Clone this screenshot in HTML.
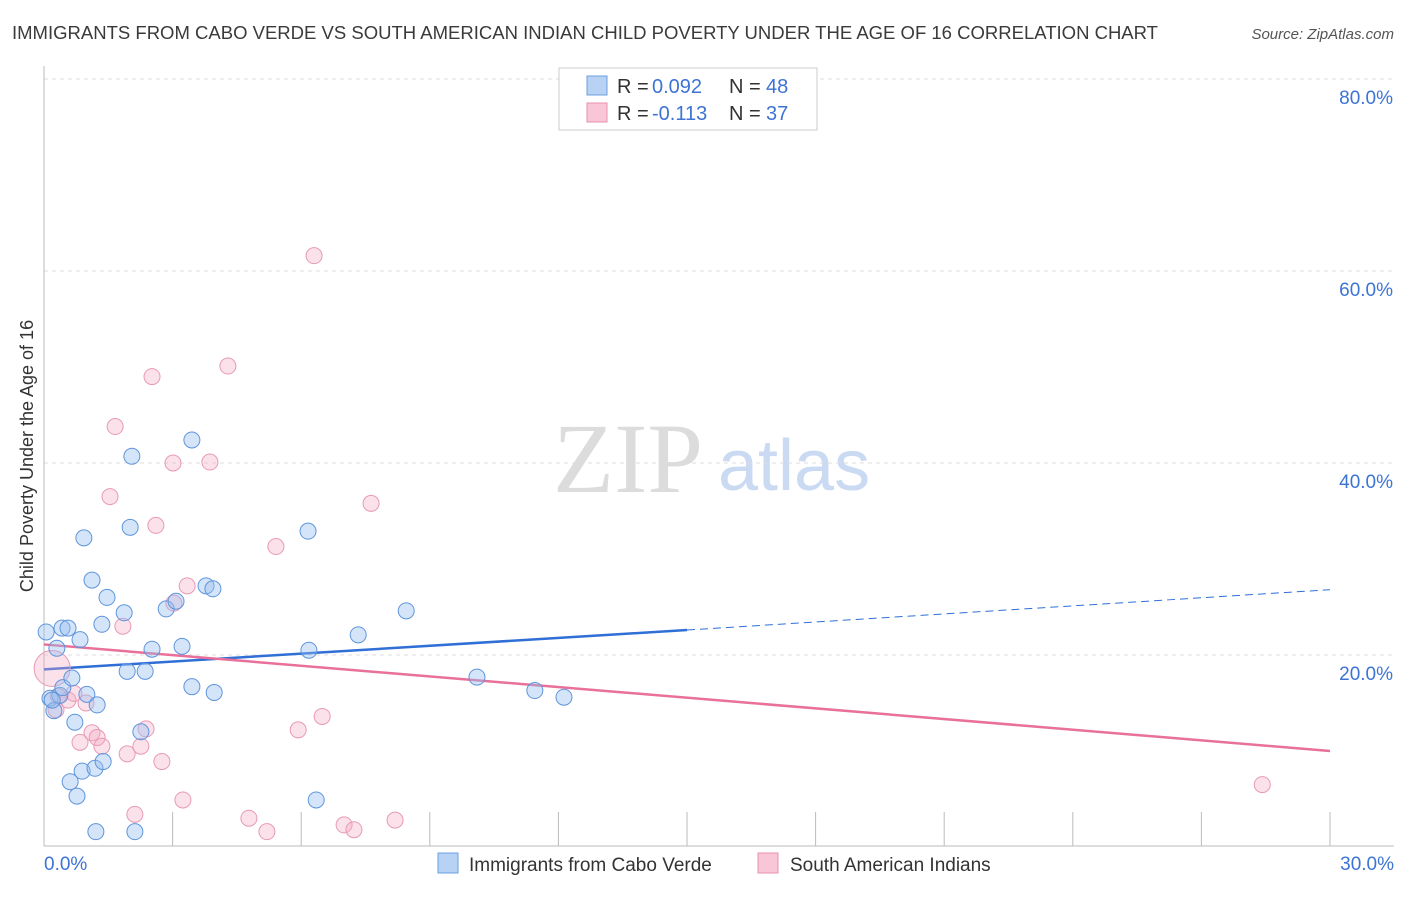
<!DOCTYPE html>
<html><head><meta charset="utf-8"><style>
body{margin:0;background:#fff;font-family:"Liberation Sans",sans-serif}
</style></head><body>
<svg id="chart" width="1406" height="892" xmlns="http://www.w3.org/2000/svg" font-family="Liberation Sans, sans-serif">
<text x="12" y="39" font-size="18" fill="#3a3a3a" textLength="1146" lengthAdjust="spacingAndGlyphs">IMMIGRANTS FROM CABO VERDE VS SOUTH AMERICAN INDIAN CHILD POVERTY UNDER THE AGE OF 16 CORRELATION CHART</text>
<text x="1394" y="39" font-size="15" fill="#555" text-anchor="end" font-style="italic">Source: ZipAtlas.com</text>
<text x="553" y="492" font-size="100" fill="#dcdcdc" style="font-family:'Liberation Serif',serif">ZIP</text>
<text x="718" y="490" font-size="72" fill="#c9daf2">atlas</text>
<text transform="translate(33,456) rotate(-90)" font-size="18" fill="#333" text-anchor="middle">Child Poverty Under the Age of 16</text>
<g id="grid"></g><g id="ticks"></g><g id="lines"></g><g id="points"></g>
<g>
<rect x="559" y="68" width="258" height="62" fill="#fff" stroke="#ccc"/>
<rect x="587" y="76" width="20" height="19" fill="#b8d2f4" stroke="#6a9fe0"/>
<rect x="587" y="103" width="20" height="19" fill="#f8c6d6" stroke="#e890b0"/>
<text x="617" y="93" font-size="20" fill="#333">R =</text>
<text x="652" y="93" font-size="20" fill="#3d73d4">0.092</text>
<text x="729" y="93" font-size="20" fill="#333">N =</text>
<text x="766" y="93" font-size="20" fill="#3d73d4">48</text>
<text x="617" y="120" font-size="20" fill="#333">R =</text>
<text x="652" y="120" font-size="20" fill="#3d73d4">-0.113</text>
<text x="729" y="120" font-size="20" fill="#333">N =</text>
<text x="766" y="120" font-size="20" fill="#3d73d4">37</text>
</g>
<g>
<rect x="438" y="853" width="20" height="20" fill="#b8d2f4" stroke="#6a9fe0"/>
<text x="469" y="871" font-size="19" fill="#333">Immigrants from Cabo Verde</text>
<rect x="758" y="853" width="20" height="20" fill="#f8c6d6" stroke="#e890b0"/>
<text x="790" y="871" font-size="19" fill="#333">South American Indians</text>
</g>
</svg>
<script>
const blueX=[0.05,0.30,0.42,0.56,0.84,0.93,1.12,1.47,1.35,1.87,2.01,2.05,1.94,2.36,2.52,2.85,3.08,3.22,3.45,3.45,3.78,3.94,3.97,6.16,6.18,6.35,7.33,8.45,10.10,11.45,12.13,0.14,0.23,0.37,0.44,0.65,0.72,1.00,1.24,0.89,0.61,0.77,1.19,1.38,1.21,2.12,2.26,0.19];
const blueY=[22.4,20.7,22.8,22.8,21.6,32.2,27.8,26.0,23.2,24.4,33.3,40.7,18.3,18.3,20.6,24.8,25.6,20.9,42.4,16.7,27.2,26.9,16.1,32.9,20.5,4.9,22.1,24.6,17.7,16.3,15.6,15.5,14.2,15.8,16.6,17.6,13.0,15.9,14.8,7.9,6.8,5.3,8.2,8.9,1.6,1.6,12.0,15.3];
const pinkX=[6.30,4.29,2.52,1.66,3.01,3.87,1.54,2.61,7.63,5.41,3.34,3.03,1.84,0.19,0.33,0.56,0.70,0.98,1.12,1.24,0.84,1.35,1.94,2.26,2.38,2.75,5.93,6.49,3.24,2.12,4.78,5.20,7.00,7.23,8.19,28.42,0.28];
const pinkY=[61.6,50.1,49.0,43.8,40.0,40.1,36.5,33.5,35.8,31.3,27.2,25.4,23.0,18.6,15.7,15.3,16.0,15.0,11.9,11.4,10.9,10.5,9.7,10.5,12.3,8.9,12.2,13.6,4.9,3.4,3.0,1.6,2.3,1.8,2.8,6.5,14.3];
const yTicks=[20,40,60,80];
const yTickLabels=["20.0%","40.0%","60.0%","80.0%"];
const xTicks=[0,3,6,9,12,15,18,21,24,27,30];
const blueTrend=[18.5,22.6,26.8];
const pinkTrend=[21.1,10.0];
const NS="http://www.w3.org/2000/svg";
const sx=v=>44+v*1286/30, sy=v=>847-v*9.6;
function mk(t,a,p){const e=document.createElementNS(NS,t);for(const k in a)e.setAttribute(k,a[k]);document.getElementById(p).appendChild(e);return e;}
yTicks.forEach((t,i)=>{
 const g=mk('line',{x1:44,x2:1394,y1:sy(t),y2:sy(t),stroke:'#ddd','stroke-dasharray':'4,4'},'grid');
 
 
 const l=mk('text',{x:1393,y:sy(t)+25,'font-size':19,fill:'#3d73d4','text-anchor':'end'},'ticks');
 l.textContent=yTickLabels[i];
 
 
});
const ax=mk('line',{x1:44,x2:44,y1:66,y2:846,stroke:'#bbb'},'ticks');


const bx=mk('line',{x1:44,x2:1394,y1:846,y2:846,stroke:'#bbb'},'ticks');


xTicks.forEach(t=>{
 if(t===0)return;
 const k=mk('line',{x1:sx(t),x2:sx(t),y1:812,y2:846,stroke:'#bbb'},'ticks');
 
 
});
const x0=mk('text',{x:44,y:870,'font-size':19,fill:'#3d73d4'},'ticks');x0.textContent=xTicks[0].toFixed(1)+'%';


const x1=mk('text',{x:1394,y:870,'font-size':19,fill:'#3d73d4','text-anchor':'end'},'ticks');x1.textContent=xTicks[xTicks.length-1].toFixed(1)+'%';


let ln=mk('line',{x1:sx(0),y1:sy(blueTrend[0]),x2:sx(15),y2:sy(blueTrend[1]),stroke:'#2f6fd6','stroke-width':2.5},'lines');


ln=mk('line',{x1:sx(15),y1:sy(blueTrend[1]),x2:sx(30),y2:sy(blueTrend[2]),stroke:'#2f6fd6','stroke-width':1,'stroke-dasharray':'8,5'},'lines');


ln=mk('line',{x1:sx(0),y1:sy(pinkTrend[0]),x2:sx(30),y2:sy(pinkTrend[1]),stroke:'#e8709a','stroke-width':2.5},'lines');


pinkX.forEach((x,i)=>{
 const c=mk('circle',{cx:sx(x),cy:sy(pinkY[i]),r:i===13?18:8,fill:'rgba(244,170,196,0.35)',stroke:'#e89ab6','stroke-width':1},'points');
 
 
});
blueX.forEach((x,i)=>{
 const c=mk('circle',{cx:sx(x),cy:sy(blueY[i]),r:8,fill:'rgba(150,190,240,0.4)',stroke:'#5f95dc','stroke-width':1},'points');
 
 
});
</script>
</body></html>
